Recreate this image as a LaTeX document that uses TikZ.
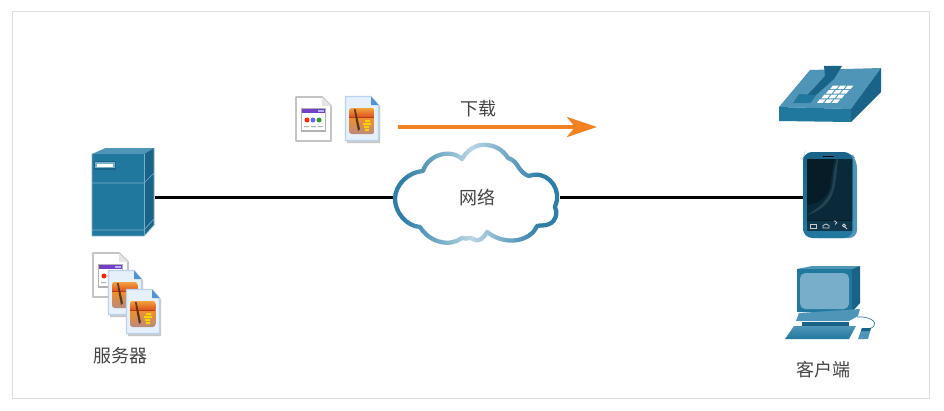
\documentclass[tikz,border=0pt]{standalone}
\usepackage{fontspec}
\setmainfont{Noto Sans CJK SC}
\usetikzlibrary{arrows.meta}
\definecolor{bd}{HTML}{DDDDDD}
\definecolor{wire}{HTML}{000000}
\definecolor{orangearrow}{HTML}{F58220}
\definecolor{labeltxt}{HTML}{444444}
\definecolor{ciscoA}{HTML}{21789F}
\definecolor{ciscoB}{HTML}{1A6388}
\definecolor{ciscoC}{HTML}{4E95B8}
\definecolor{ciscoD}{HTML}{79AECB}
\definecolor{cloudD}{HTML}{2E7EA8}
\definecolor{cloudL}{HTML}{B8D6E5}
\definecolor{sunA}{HTML}{F2A23C}
\definecolor{sunB}{HTML}{E0561F}
\definecolor{sunC}{HTML}{B83A1C}
\definecolor{seaA}{HTML}{EE8E2E}
\definecolor{seaB}{HTML}{B98A80}
\definecolor{pageB}{HTML}{B9D3EE}
\definecolor{pageF}{HTML}{E6F0FB}
\definecolor{foldB}{HTML}{4F93D8}
\definecolor{docB}{HTML}{C4C4C4}
\tikzset{
  lbl/.style={text=labeltxt,font=\fontsize{13.5pt}{15pt}\selectfont,inner sep=0pt},
  anchorbox/.style={inner sep=0pt,outer sep=0pt,minimum width=#1*0.75pt},
  wireline/.style={draw=wire,line width=2.5pt},
  dl/.style={draw=ciscoD,line width=0.5pt,line join=round},
}
\newcommand\cloudpath{(462,159) .. controls (470,146) and (480,144) .. (487,145)
 .. controls (498,146) and (504,152) .. (508,158)
 .. controls (514,160) and (516,163) .. (519,168)
 .. controls (522,172) and (525,175) .. (529,176)
 .. controls (545,170) and (559,185) .. (557,200)
 .. controls (556,204) and (555,206) .. (555,207)
 .. controls (558,212) and (556,222) .. (549,224)
 .. controls (546,226) and (541,225) .. (537,226)
 .. controls (530,242) and (505,246) .. (487,232)
 .. controls (484,238) and (478,243) .. (473,239)
 .. controls (470,236) and (467,240) .. (462,238)
 .. controls (450,247) and (430,243) .. (420,227)
 .. controls (406,226) and (395,212) .. (395,199)
 .. controls (395,185) and (408,172) .. (423,171)
 .. controls (428,155) and (450,148) .. (462,159) -- cycle}
% #1 x, #2 y : page with fold and web window
\newcommand\docicon[2]{\begin{scope}[shift={(#1,#2)}]
 \fill[white] (0,0)--(27,0)--(37,10)--(37,46)--(0,46)--cycle;
 \draw[draw=docB,line width=1.4pt,line join=round] (1,1)--(27,1)--(36,10)--(36,45)--(1,45)--cycle;
 \fill[black!10] (27,1)--(27,10)--(36,10)--cycle;
 \fill[black!30] (6,12) rectangle (31,36);
 \fill[white] (7,17) rectangle (30,34);
 \fill[blue!45!violet!75] (7,13) rectangle (30,16.5);
 \fill[white!70!blue] (23,14) rectangle (29,15.5);
 \fill[red!70!orange] (12,24) circle (2.5);
 \fill[blue!60] (18,24) circle (2.5);
 \fill[green!50!black!80] (24,24) circle (2.5);
 \fill[black!30] (9,30) rectangle (14,31) (16,30) rectangle (21,31) (23,30) rectangle (28,31);
\end{scope}}
% #1 x, #2 y : page with picture
\newcommand\imgicon[2]{\begin{scope}[shift={(#1,#2)}]
 \fill[black!22] (2,2)--(27,2)--(35,10)--(35,47)--(2,47)--cycle;
 \fill[pageF] (0,0)--(26,0)--(34,9)--(34,45)--(0,45)--cycle;
 \draw[draw=pageB,line width=0.9pt,line join=round] (0.5,0.5)--(26,0.5)--(33.5,9)--(33.5,44.5)--(0.5,44.5)--cycle;
 \fill[foldB] (26,0.5)--(26,9)--(33.5,9)--cycle;
 \begin{scope}
  \clip[rounded corners=2pt] (4,12) rectangle (29.5,38);
  \shade[top color=sunA,bottom color=sunB] (4,12) rectangle (29.5,20.5);
  \fill[sunC] (4,20.5) rectangle (29.5,22.5);
  \shade[top color=seaA,bottom color=seaB] (4,22.5) rectangle (29.5,38);
  \fill[yellow!70!orange] (20,24) rectangle (25,26) (18,27) rectangle (26,29) (19,30) rectangle (24,32) (20,33) rectangle (24,35);
  \fill[black!55!brown] (9,13)--(10.5,13)--(15,33)--(13,35)--(11,25)--cycle;
 \end{scope}
\end{scope}}
\begin{document}
\begin{tikzpicture}[x=0.75pt,y=-0.75pt]
\useasboundingbox (0,0) rectangle (944,410);
\fill[white] (0,0) rectangle (944,410);
\draw[bd,line width=0.75pt] (12.5,11.5) rectangle (929.5,398.5);

% server
\fill[ciscoC] (92,154)--(105.5,148)--(154,148)--(144,154)--cycle;
\fill[ciscoB] (144,154)--(154,148)--(154,225)--(144,236)--cycle;
\fill[ciscoA] (92,154) rectangle (144,236);
\draw[dl] (92,183)--(144,183)--(154,173);
\draw[dl] (92,230)--(144,230)--(154,219);
\draw[dl] (92,154)--(92,236)--(144,236)--(154,225)--(154,148);
\draw[dl] (144,154)--(144,236);
\fill[ciscoB] (94,161) rectangle (116,170);
\fill[ciscoD] (95,162) rectangle (115,168);
\fill[white] (97,164) rectangle (113,167);

% server files
\docicon{92}{252}
\imgicon{108}{270}
\imgicon{126}{289}

% files on the link
\docicon{295}{96}
\imgicon{345}{96}

% arrow
\coordinate (arrowstart) at (398,127);
\coordinate (arrowend) at (597,127);
\draw[draw=orangearrow,line width=3pt,-{Stealth[length=22.5pt,width=15pt,inset=6pt]}] (arrowstart) -- (arrowend);
\node[lbl] (downloadlabel) at (478,109) {下载};

% named anchors for the link
\node[anchorbox=63] (server) at (123.5,197.5) {};
\node[anchorbox=166] (cloud) at (477,197.5) {};
\node[anchorbox=52] (smartphone) at (829.5,197.5) {};
\draw[wireline] (server.east) -- (cloud.west);
\draw[wireline] (cloud.east) -- (smartphone.west);

% cloud
\fill[white] \cloudpath;
\foreach \i in {0,...,59}{
  \pgfmathsetmacro\xa{390+\i*3}
  \pgfmathsetmacro\xb{\xa+3.2}
  \pgfmathsetmacro\mixv{min(100,100*abs(\xa+1.5-472)/68)}
  \begin{scope}
    \clip (\xa,130) rectangle (\xb,260);
    \colorlet{cc}{cloudD!\mixv!cloudL}
    \draw[cc,line width=3.2pt,line join=round] \cloudpath;
  \end{scope}
}
\node[lbl] (cloudlabel) at (477,198) {网络};

% desk phone
\fill[ciscoC] (779,107)--(810,70)--(881,68)--(851,109)--cycle;
\fill[ciscoA] (779,107)--(851,109)--(851,122)--(779,121)--cycle;
\fill[ciscoB] (851,109)--(881,68)--(881,92)--(851,122)--cycle;
\fill[ciscoB] (824,66)--(842,66)--(834,79)--(816,95)--(811,102)--(806,96)--(815,87)--(825,76)--cycle;
\fill[ciscoA] (793,103)--(799,94)--(816,95)--(810,103)--cycle;
\foreach \r in {0,1,2,3}{\foreach \c in {0,1,2}{
  \pgfmathsetmacro\ox{833-\r*4.4+\c*7.3}
  \pgfmathsetmacro\oy{85.5+\r*4.6}
  \fill[white] (\ox,\oy)--(\ox+5.8,\oy)--(\ox+3,\oy+3.6)--(\ox-2.8,\oy+3.6)--cycle;
}}

% smartphone
\fill[ciscoC,rounded corners=6pt] (805,152) -- (850,152) -- (857,160) -- (857,238) -- (810,238) -- (803,230) -- (803,158) -- cycle;
\shade[top color=ciscoB,bottom color=ciscoA,rounded corners=7pt] (803,152) rectangle (853,238);
\fill[ciscoB!28!black] (807,159) rectangle (852,231);
\fill[ciscoB!42!black] (807,220) -- (807,205) .. controls (822,204) and (830,195) .. (831,180) .. controls (832,170) and (833,165) .. (835,159) -- (852,159) -- (852,220) -- cycle;
\fill[ciscoC!45!black] (807,215) .. controls (825,204) and (832,195) .. (833,180) .. controls (834,170) and (835,165) .. (837,159) -- (838,159) .. controls (837,170) and (836,185) .. (832,195) .. controls (828,205) and (818,212) .. (807,215) -- cycle;
\fill[black] (823,155.5) rectangle (834,156.5);
\fill[ciscoB!55!black] (807,221) rectangle (852,231);
\draw[white!80!black,line width=0.6pt] (810.5,224) rectangle (816,228);
\draw[white!80!black,line width=0.6pt] (823,228)--(823,225.5)--(826,224)--(829,225.5)--(829,228)--cycle;
\draw[white!80!black,line width=0.6pt] (835,224.5) arc (90:-130:1.8);
\draw[white!80!black,line width=0.6pt] (844,225.5) circle (1.5) (845,227)--(847,229);

% desktop computer
\fill[ciscoC] (797,269)--(812,266)--(860,266)--(852,269)--cycle;
\fill[ciscoB] (852,269)--(860,266)--(860,303)--(852,312)--cycle;
\fill[ciscoA] (797,269) rectangle (852,312);
\fill[ciscoD,rounded corners=4pt] (800,273) rectangle (849,309);
\fill[ciscoC] (799,313)--(860,309)--(858,316)--(849,321)--(796,321)--cycle;
\fill[ciscoB] (802,322) rectangle (849,327);
\shade[top color=ciscoC,bottom color=ciscoA] (794,326)--(856,326)--(849,339)--(785,339)--cycle;
\draw[ciscoA,line width=0.5pt] (857,317) .. controls (870,316) and (877,322) .. (874,326) .. controls (872,329) and (866,329) .. (864,329);
\fill[ciscoC] (862,328)--(871,328)--(868,339)--(858,339)--cycle;
\fill[ciscoB] (862,328)--(871,328)--(870,331)--(861,331)--cycle;

% labels
\node[lbl] (serverlabel) at (120,356) {服务器};
\node[lbl] (clientlabel) at (823,370) {客户端};
\end{tikzpicture}
\end{document}
